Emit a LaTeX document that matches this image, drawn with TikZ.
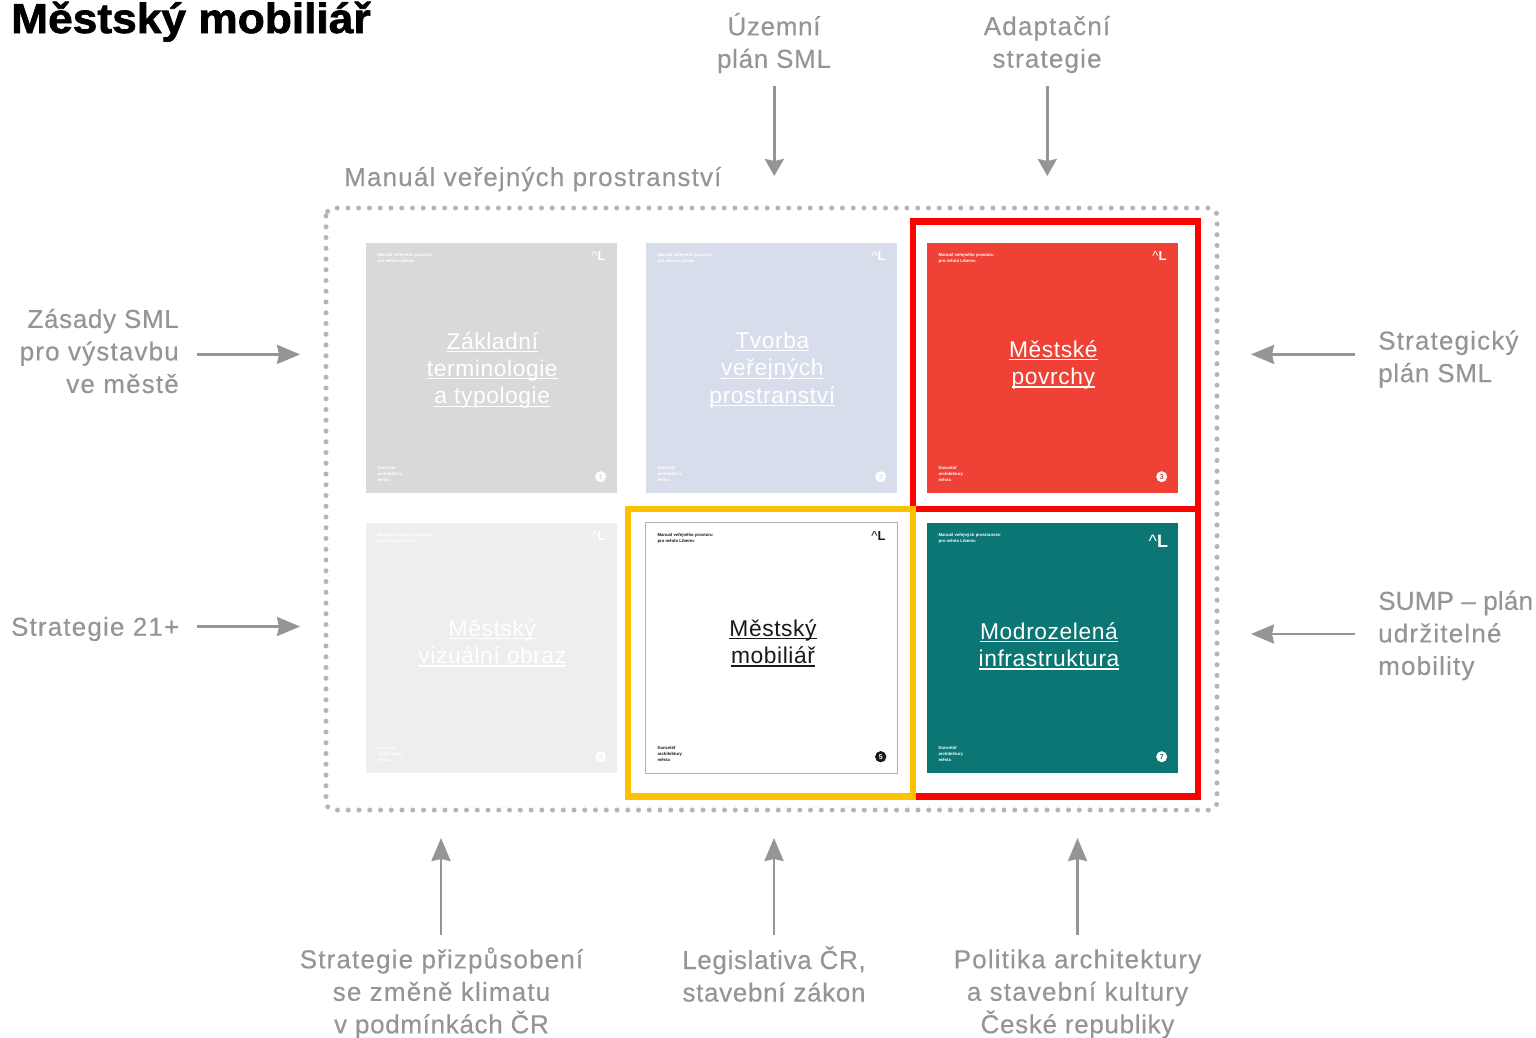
\documentclass[tikz,border=0pt]{standalone}
\usepackage{fontspec}
\usepackage{xcolor}
\setmainfont{Liberation Sans}
\newfontfamily\ttl[BoldFont={Liberation Sans Bold},BoldFeatures={FakeBold=1.6,FakeStretch=1.055}]{Liberation Sans}
\newfontfamily\lab[LetterSpace=4.5,FakeBold=0.25]{Liberation Sans}
\newfontfamily\labn[LetterSpace=2.6,FakeBold=0.25]{Liberation Sans}
\newfontfamily\labt[LetterSpace=0.8,FakeBold=0.25]{Liberation Sans}
\newfontfamily\cardf[LetterSpace=2.6]{Liberation Sans}
\definecolor{lg}{HTML}{959595}
\definecolor{dotc}{HTML}{B5B5B5}
\definecolor{fr}{HTML}{FF0000}
\definecolor{fy}{HTML}{FFC000}
\definecolor{c1}{HTML}{D9D9D9}
\definecolor{c2}{HTML}{D8DDEB}
\definecolor{c3}{HTML}{EF4136}
\definecolor{c4}{HTML}{EFEEEC}
\definecolor{c5}{HTML}{FFFFFF}
\definecolor{c7}{HTML}{0C7674}
\usetikzlibrary{arrows.meta}
\newsavebox{\ubox}
\newcommand{\ul}[1]{\sbox{\ubox}{#1}\rlap{\rule[-2.8pt]{\wd\ubox}{1.1pt}}\usebox{\ubox}}
\def\logofs{13}\def\logox{11.5pt}\def\logoy{9pt}
\tikzset{
 x=1pt,y=-1pt,
 lbl/.style={text=lg,font=\fontsize{26}{32.5}\selectfont\lab,inner sep=0pt,align=center},
 arr/.style={draw=lg,line width=2.6pt,-{Stealth[length=23pt,width=19pt,inset=2pt]}},
 arrtop/.style={draw=lg,line width=2.6pt,-{Stealth[length=17pt,width=19pt,inset=2pt]}},
 cardbox/.style={minimum width=251pt,minimum height=250pt,inner sep=0pt,draw=none},
 cardt/.style={font=\fontsize{22.8}{27.4}\selectfont\cardf,inner sep=0pt,align=center},
 tiny/.style={font=\fontsize{4.3}{5.8}\selectfont\bfseries,inner sep=0pt,align=left,anchor=north west},
 logo/.style={font=\fontsize{\logofs}{\logofs}\selectfont,inner sep=0pt,anchor=north east},
}
% name, cx, cy, fill, text colour, title, number, top line, title position
\newcommand{\card}[9]{%
 \node[cardbox,fill=#4] (#1) at (#2,#3) {};
 \node[tiny,text=#5] (#1a) at ([xshift=11.5pt,yshift=-10pt]#1.north west) {#8\\pro město Liberec};
 \node[tiny,text=#5,anchor=south west] (#1b) at ([xshift=11.5pt,yshift=11.5pt]#1.south west) {Kancelář\\architektury\\města};
 \node[logo,text=#5] (#1l) at ([xshift=-\logox,yshift=-\logoy]#1.north east) {\textasciicircum\textbf{L}};
 \node[circle,fill=#5,minimum size=11pt,inner sep=0pt,text=#4,font=\fontsize{7}{7}\selectfont\bfseries] (#1n) at ([xshift=-16.5pt,yshift=16.5pt]#1.south east) {#7};
 \node[cardt,text=#5] (#1t) at (#9) {#6};
}
\begin{document}
\begin{tikzpicture}
\useasboundingbox (0,0) rectangle (1536,1037);
\fill[white] (0,0) rectangle (1536,1037);
\node[anchor=base west,inner sep=0pt,font=\fontsize{42}{42}\selectfont\ttl\bfseries] (title) at (11,33) {Městský mobiliář};
\node[lbl,anchor=base west] (mvp) at (344,186) {Manuál veřejných prostranství};
% dotted frame
\draw[dotc,line width=5pt,line cap=round,dash pattern=on 0pt off 10.75pt,rounded corners=8pt] (326,208) rectangle (1217,810);
% cards
\card{a}{491.5}{368}{c1}{white}{\ul{Základní}\\\ul{terminologie}\\\ul{a typologie}}{1}{Manuál veřejného prostoru}{492.3,370.5}
\card{b}{771.5}{368}{c2}{white}{\ul{Tvorba}\\\ul{veřejných}\\\ul{prostranství}}{2}{Manuál veřejného prostoru}{772.3,370}
\card{c}{1052.5}{368}{c3}{white}{\ul{Městské}\\\ul{povrchy}}{3}{Manuál veřejného prostoru}{1053.3,365}
\card{d}{491.5}{648}{c4}{white}{\ul{Městský}\\\ul{vizuální obraz}}{4}{Manuál veřejného prostoru}{492.3,643}
\card{e}{771.5}{648}{c5}{black!90}{\ul{Městský}\\\ul{mobiliář}}{5}{Manuál veřejného prostoru}{773,643}
\draw[black!30,line width=0.9pt] (e.north west) rectangle (e.south east);
\node[circle,fill=black!90,minimum size=11pt,inner sep=0pt,text=white,font=\fontsize{7}{7}\selectfont\bfseries] (en2) at (en) {5};
\def\logofs{18}\def\logox{10pt}\def\logoy{12pt}
\card{f}{1052.5}{648}{c7}{white}{\ul{Modrozelená}\\\ul{infrastruktura}}{7}{Manuál veřejných prostranství}{1049,646}
% highlight frames
\draw[fr,line width=6.8pt] (913,221.5) rectangle (1198,509);
\draw[fr,line width=6.8pt] (913,509) rectangle (1198,796.5);
\draw[fy,line width=6.8pt] (628,509) rectangle (913,796.5);
% labels and arrows
\node[lbl] (t1) at (774,43) {{\labn Územní}\\{\labn plán SML}};
\node[lbl] (t2) at (1047,44.5) {Adaptační\\strategie};
\coordinate (t1s) at (774.3,85.5); \coordinate (t2s) at (1047.3,85.5);
\coordinate (t1e) at (774.3,176); \coordinate (t2e) at (1047.3,176);
\draw[arrtop] (t1s) -- (t1e);
\draw[arrtop] (t2s) -- (t2e);
\node[lbl,align=right,anchor=east] (l1) at (179,351) {{\labn Zásady SML}\\pro výstavbu\\ve městě};
\node[lbl,anchor=east] (l2) at (179.5,629) {Strategie 21+};
\coordinate (l1s) at (197,354.4); \coordinate (l2s) at (197,626.5);
\coordinate (l1e) at (300,354.4); \coordinate (l2e) at (300,626.5);
\draw[arr] (l1s) -- (l1e);
\draw[arr] (l2s) -- (l2e);
\node[lbl,align=left,anchor=west] (r1) at (1378,359) {Strategický\\{\labn plán SML}};
\node[lbl,align=left,anchor=west] (r2) at (1378,635.5) {{\labt SUMP – plán}\\udržitelné\\mobility};
\coordinate (r1s) at (1355,354.4); \coordinate (r2s) at (1355,634);
\coordinate (r1e) at (1251,354.4); \coordinate (r2e) at (1251,634);
\draw[arr] (r1s) -- (r1e);
\draw[arr] (r2s) -- (r2e);
\node[lbl] (b1) at (441.5,993) {Strategie přizpůsobení\\se změně klimatu\\{\labn v podmínkách ČR}};
\node[lbl] (b2) at (774,974) {{\labn Legislativa ČR,}\\{\labn stavební zákon}};
\node[lbl] (b3) at (1077.5,994) {Politika architektury\\a stavební kultury\\{\labn České republiky}};
\coordinate (b1s) at (441,934.5); \coordinate (b2s) at (774,934.5); \coordinate (b3s) at (1077.5,934.5);
\coordinate (b1e) at (441,838); \coordinate (b2e) at (774,838); \coordinate (b3e) at (1077.5,838);
\draw[arr] (b1s) -- (b1e);
\draw[arr] (b2s) -- (b2e);
\draw[arr] (b3s) -- (b3e);
\end{tikzpicture}
\end{document}
